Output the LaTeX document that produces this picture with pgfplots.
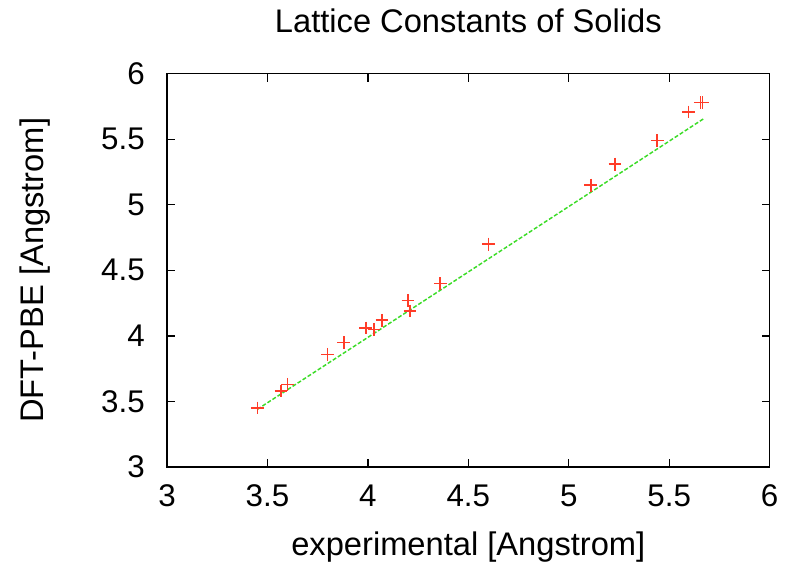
\documentclass[border=0pt]{standalone}
\usepackage{pgfplots}
\pgfplotsset{compat=1.18}
\usepackage{fontspec}
\setmainfont{Liberation Sans}
\definecolor{ptred}{RGB}{255,60,40}
\definecolor{fitgreen}{RGB}{60,220,40}
\begin{document}
\begin{tikzpicture}
\useasboundingbox (-125.25pt,-80.25pt) rectangle (467.25pt,350.25pt);
\begin{axis}[
  at={(0,0)}, anchor=south west,
  scale only axis, width=452pt, height=295pt,
  xmin=3, xmax=6, ymin=3, ymax=6,
  xtick={3,3.5,...,6}, ytick={3,3.5,...,6},
  xticklabels={3,3.5,4,4.5,5,5.5,6},
  yticklabels={3,3.5,4,4.5,5,5.5,6},
  tick align=inside, major tick length=6pt,
  axis line style={line width=1.1pt},
  every tick/.style={line width=1pt, black},
  tick label style={font=\fontsize{23.5}{26}\selectfont},
  xticklabel style={anchor=center, inner sep=0pt, yshift=-21.75pt},
  yticklabel style={anchor=east, inner sep=0pt, xshift=-16.5pt},
  /pgf/number format/assume math mode=true,
  title={Lattice Constants of Solids},
  title style={font=\fontsize{24.5}{28}\selectfont, at={(axis description cs:0.5,1)}, anchor=center, yshift=34pt},
  xlabel={experimental [Angstrom]},
  ylabel={DFT-PBE [Angstrom]},
  label style={font=\fontsize{24.5}{28}\selectfont},
  xlabel style={at={(axis description cs:0.5,0)}, anchor=center, yshift=-60pt},
  ylabel style={at={(axis description cs:0,0.5)}, anchor=center, yshift=99pt},
  clip=false,
]
\addplot[fitgreen, line width=1.1pt, dash pattern=on 3pt off 1.5pt] coordinates {(3.45,3.44) (5.67,5.655)};
\addplot[only marks, mark=+, mark size=4.8pt, color=ptred, mark options={solid, draw=ptred, line width=1.1pt}] coordinates {
(3.45,3.45) (3.567,3.58) (3.60,3.63) (3.80,3.86) (3.88,3.95)
(3.99,4.06) (4.03,4.05) (4.07,4.12) (4.20,4.27) (4.21,4.19)
(4.36,4.40) (4.60,4.70) (5.11,5.15) (5.23,5.31) (5.44,5.49)
(5.597,5.707) (5.655,5.78) (5.665,5.78)
};
\end{axis}
\end{tikzpicture}
\end{document}
